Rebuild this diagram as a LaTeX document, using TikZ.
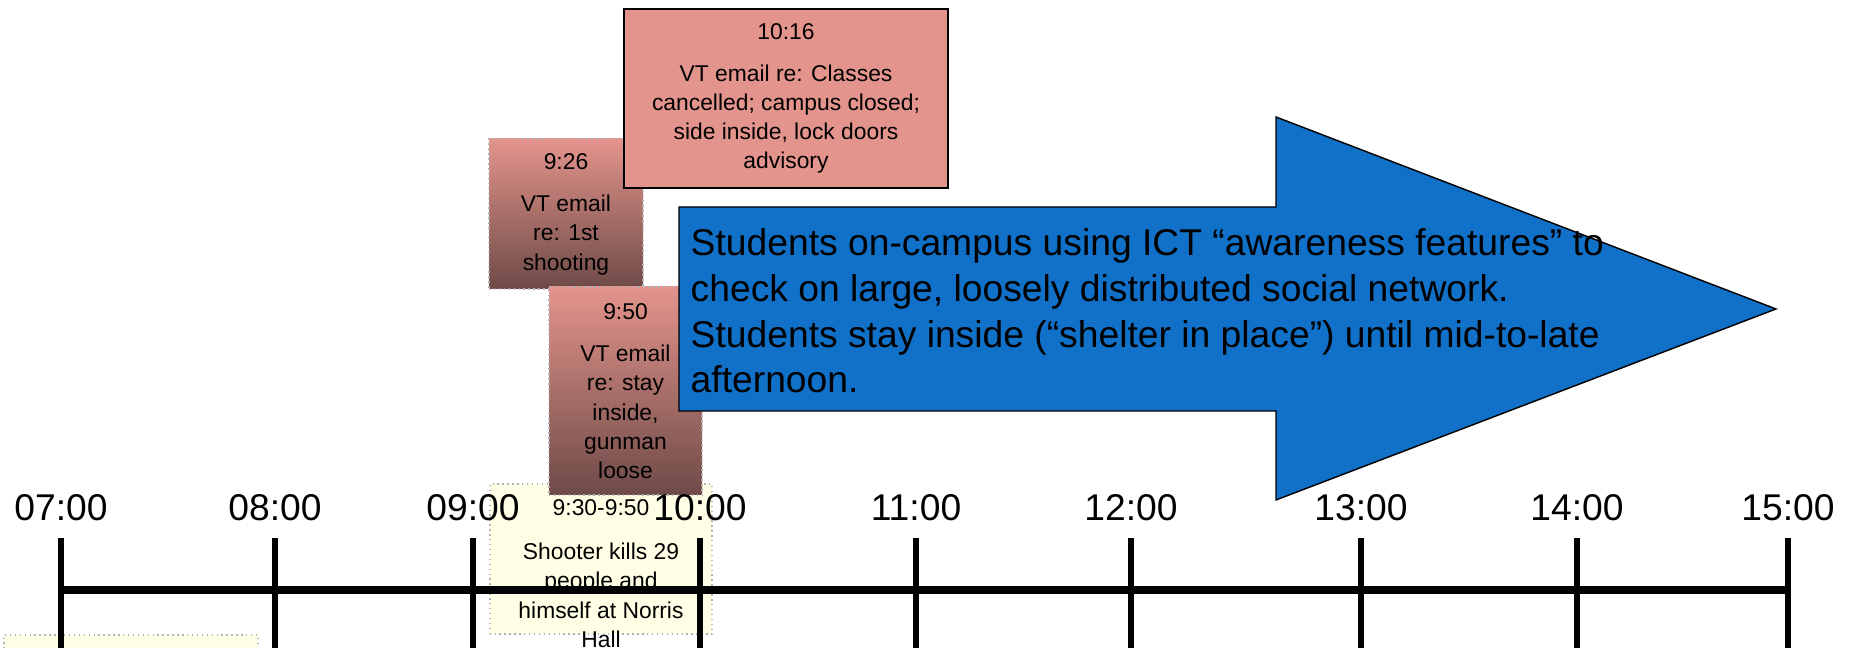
\documentclass[tikz,border=0pt]{standalone}
\usepackage{fontspec}
\setmainfont{Liberation Sans}
\definecolor{salmon}{HTML}{E3948C}
\definecolor{mudbrown}{HTML}{6E4A47}
\definecolor{awareblue}{HTML}{1170C7}
\definecolor{notepad}{HTML}{FFFFE6}
\begin{document}
\begin{tikzpicture}[
    emailbox/.style={draw=gray!60, densely dotted, thin, top color=salmon, bottom color=mudbrown,
        inner sep=0pt, align=center, font=\fontsize{6.5}{8.3}\selectfont},
    eventbox/.style={draw=gray!60, densely dotted, thin, fill=notepad},
    boxtext/.style={align=center, inner sep=0pt, font=\fontsize{6.5}{8.3}\selectfont},
    hourlabel/.style={inner sep=0pt, font=\fontsize{10.6}{12}\selectfont},
    hourtick/.style={line width=1.7pt}]
    \useasboundingbox (0,0) rectangle (18.53,6.48);
    \clip (0,0) rectangle (18.53,6.48);

    % Event notes below the line
    \draw[eventbox] (0.04,-0.5) rectangle (2.58,0.13);
    \draw[eventbox] (4.90,0.14) rectangle (7.12,1.64);
    \node[boxtext] (shooting) at (6.01,0.745) {9:30-9:50\\[4.3pt]Shooter kills 29\\people and\\himself at Norris\\Hall};

    % VT emails
    \node[emailbox, minimum width=1.54cm, minimum height=1.50cm] (email926) at (5.66,4.34)
        {9:26\\[3.8pt]VT email\\re: 1st\\shooting};
    \node[emailbox, minimum width=1.53cm, minimum height=2.08cm] (email950) at (6.255,2.57)
        {9:50\\[3.8pt]VT email\\re: stay\\inside,\\gunman\\loose};
    \node[boxtext, draw=black, line width=0.6pt, fill=salmon, minimum width=3.24cm, minimum height=1.79cm] (email1016) at (7.86,5.495)
        {10:16\\[3.5pt]VT email re: Classes\\cancelled; campus closed;\\side inside, lock doors\\advisory};

    % Big arrow
    \draw[fill=awareblue, line width=0.4pt] (6.79,4.41) -- (12.76,4.41) -- (12.76,5.31) -- (17.76,3.39)
        -- (12.76,1.48) -- (12.76,2.37) -- (6.79,2.37) -- cycle;
    \node[anchor=west, align=left, inner sep=0pt, font=\fontsize{10.6}{13}\selectfont] (shelter) at (6.90,3.37)
        {Students on-campus using ICT “awareness features” to\\
        check on large, loosely distributed social network.\\
        Students stay inside (“shelter in place”) until mid-to-late\\
        afternoon.};

    % Timeline
    \coordinate (start) at (0.61,0.58);
    \coordinate (end) at (17.88,0.58);
    \draw[line width=2.2pt] (start) -- (end);
    \foreach \x/\t [count=\i] in {0.61/07:00, 2.75/08:00, 4.73/09:00, 7.00/10:00, 9.16/11:00,
        11.31/12:00, 13.61/13:00, 15.77/14:00, 17.88/15:00} {
        \draw[hourtick] (\x,1.10) -- (\x,-0.1);
        \node[hourlabel] (hour\i) at (\x,1.40) {\t};
    }
\end{tikzpicture}
\end{document}
